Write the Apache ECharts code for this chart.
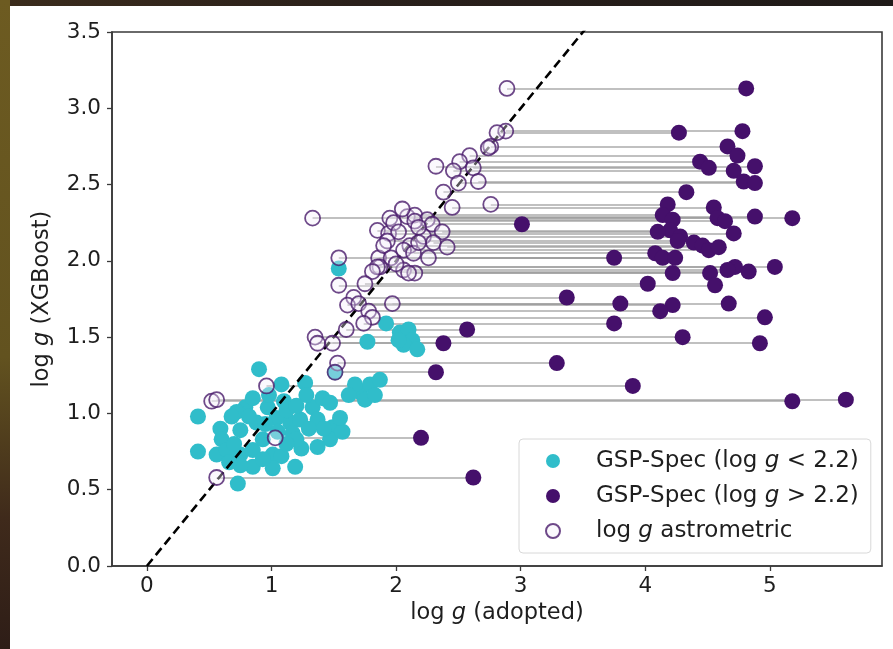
<!DOCTYPE html>
<html>
<head>
<meta charset="utf-8">
<script src="https://cdn.jsdelivr.net/npm/echarts@6/dist/echarts.min.js"></script>
<style>
  html, body { margin: 0; padding: 0; }
  body { width: 893px; height: 649px; position: relative; overflow: hidden;
         background: linear-gradient(90deg, #3b2c1c 0%, #2a201b 40%, #1f1a18 100%); }
  #strip { position: absolute; left: 0; top: 0; width: 10px; height: 649px;
           background: linear-gradient(180deg, #6d5b21 0%, #62521f 55%, #3f2a1b 80%, #2e1d17 100%); }
  #card { position: absolute; left: 10px; top: 6px; width: 883px; height: 643px; background: #fff; }
  #chart { position: absolute; left: 0; top: 0; width: 893px; height: 649px; }
</style>
</head>
<body>
<div id="strip"></div>
<div id="card"></div>
<div id="chart"></div>
<script>
// GSP-Spec stars with log g < 2.2 (cyan)
const cyanX = [0.90,0.41,0.41,0.73,1.08,1.27,0.59,0.60,0.75,0.79,0.85,0.72,0.97,1.04,1.15,1.23,1.33,1.41,1.47,1.37,
  1.49,1.47,1.37,1.24,1.17,1.20,0.56,0.64,0.75,0.85,0.85,0.75,1.01,1.08,1.01,1.19,0.93,0.88,1.12,0.68,
  0.82,0.95,1.05,1.10,1.30,0.93,0.66,1.28,0.98,1.20,1.42,1.57,1.55,0.70,1.12,1.71,1.79,1.87,1.75,1.83,
  1.67,1.62,1.92,2.03,2.10,2.13,2.06,2.17,2.02,1.77,1.54,1.51];
const cyanY = [1.29,0.98,0.75,0.54,1.19,1.20,0.90,0.83,0.89,1.04,1.10,1.01,1.04,0.97,0.94,0.96,1.04,1.10,1.07,0.96,
  0.91,0.83,0.78,0.77,0.87,0.83,0.73,0.76,0.73,0.76,0.65,0.66,0.73,0.72,0.64,0.65,0.83,0.94,1.02,0.98,
  0.98,0.93,0.88,1.08,0.90,0.70,0.68,1.12,1.12,1.05,0.90,0.88,0.97,0.80,0.80,1.14,1.19,1.22,1.09,1.12,
  1.19,1.12,1.59,1.53,1.55,1.48,1.45,1.42,1.48,1.47,1.95,1.27];

// stars with both an astrometric and a GSP-Spec (> 2.2) log g, same XGBoost value
const pairY = [3.13,2.85,2.84,2.75,2.69,2.65,2.62,2.61,2.59,2.52,2.51,2.45,2.37,2.35,2.28,2.29,2.30,2.27,2.28,2.26,
  2.24,2.20,2.18,2.19,2.16,2.13,2.12,2.10,2.07,2.09,2.05,2.02,2.02,2.02,1.96,1.96,1.94,1.92,1.93,1.92,
  1.85,1.84,1.76,1.72,1.71,1.72,1.67,1.63,1.59,1.55,1.50,1.46,1.46,1.33,1.27,1.18,1.08,1.09,0.84,0.58];
const pairAstro = [2.89,2.88,2.81,2.76,2.59,2.51,2.32,2.62,2.46,2.66,2.50,2.38,2.76,2.45,1.33,2.09,2.15,2.25,1.95,2.15,
  2.29,1.85,1.94,2.37,2.22,1.93,2.30,2.11,2.06,2.41,2.14,1.54,1.86,2.26,1.87,1.85,2.06,2.15,1.81,2.10,
  1.75,1.54,1.66,1.97,1.61,1.70,1.78,1.81,1.74,1.60,1.35,1.37,1.49,1.53,1.51,0.96,0.52,0.56,1.03,0.56];
const pairSpec = [4.81,4.78,4.27,4.66,4.74,4.44,4.88,4.51,4.71,4.79,4.88,4.33,4.18,4.55,5.18,4.88,4.14,4.22,4.58,4.64,
  3.01,4.20,4.71,4.10,4.28,4.26,4.39,4.46,4.51,4.59,4.08,4.14,4.24,3.75,4.72,5.04,4.66,4.22,4.83,4.52,
  4.02,4.56,3.37,3.80,4.22,4.67,4.12,4.96,3.75,2.57,4.30,4.92,2.38,3.29,2.32,3.90,5.18,5.61,2.20,2.62];

// astrometric-only points
const astroOnlyX = [2.05,2.18,1.98,2.02,1.90,2.18,1.96,2.00,2.74];
const astroOnlyY = [2.34,2.22,2.25,2.19,2.10,2.12,2.02,1.98,2.74];

const xTicks = [0, 1, 2, 3, 4, 5];
const oneToOne = [0, 3.6];

const FONT = 'DejaVu Sans';
const TXT = '#1e1e1e';
const CYAN = '#30bdca';
const PURPLE = '#45106b';
const OPEN_EDGE = '#4a1b6c';

const names = ['GSP-Spec (log g < 2.2)', 'GSP-Spec (log g > 2.2)', 'log g astrometric'];
const richNames = {
  [names[0]]: '{n|GSP-Spec (log }{i|g}{n| < 2.2)}',
  [names[1]]: '{n|GSP-Spec (log }{i|g}{n| > 2.2)}',
  [names[2]]: '{n|log }{i|g}{n| astrometric}'
};
const makeRich = size => ({
  n: { fontFamily: FONT, fontSize: size, color: TXT },
  i: { fontFamily: FONT, fontSize: size, color: TXT, fontStyle: 'italic' }
});

const cyanData = cyanX.map((x, i) => [x, cyanY[i]]);
const purpleData = pairSpec.map((x, i) => [x, pairY[i]]);
const openData = pairAstro.map((x, i) => [x, pairY[i]])
  .concat(astroOnlyX.map((x, i) => [x, astroOnlyY[i]]));
const linkData = pairY.map((y, i) => ({ coords: [[pairAstro[i], y], [pairSpec[i], y]] }));

const myChart = echarts.init(document.getElementById('chart'), null, { renderer: 'canvas' });
myChart.setOption({
  backgroundColor: 'transparent',
  animation: false,
  grid: { left: 112, right: 11, top: 32, bottom: 83, show: true, borderColor: '#3a3a3a', borderWidth: 1.6, backgroundColor: 'transparent' },
  xAxis: {
    type: 'value', min: -0.28, max: 5.9,
    name: '{n|log }{i|g}{n| (adopted)}', nameLocation: 'middle', nameGap: 29,
    nameTextStyle: { rich: makeRich(22.5) },
    axisLine: { show: true, onZero: false, lineStyle: { color: '#3a3a3a', width: 1.6 } },
    axisTick: { show: true, length: 5, customValues: xTicks, lineStyle: { color: '#3a3a3a', width: 1.3 } },
    axisLabel: { customValues: xTicks, margin: 9, fontFamily: FONT, fontSize: 21.5, color: TXT },
    splitLine: { show: false }
  },
  yAxis: {
    type: 'value', min: 0, max: 3.5, interval: 0.5,
    name: '{n|log }{i|g}{n| (XGBoost)}', nameLocation: 'middle', nameGap: 58, nameRotate: 90,
    nameTextStyle: { rich: makeRich(22.5) },
    axisLine: { show: true, onZero: false, lineStyle: { color: '#3a3a3a', width: 1.6 } },
    axisTick: { show: true, length: 5, lineStyle: { color: '#3a3a3a', width: 1.3 } },
    axisLabel: { margin: 11, fontFamily: FONT, fontSize: 21.5, color: TXT, formatter: v => v.toFixed(1) },
    splitLine: { show: false }
  },
  legend: {
    orient: 'vertical', left: 519, top: 439,
    data: names,
    padding: [10, 12, 10, 26],
    itemWidth: 14, itemHeight: 14, itemGap: 11,
    backgroundColor: '#fff', borderColor: '#d8d8d8', borderWidth: 1, borderRadius: 4,
    formatter: n => richNames[n],
    textStyle: { rich: makeRich(23), lineHeight: 24, padding: [0, 0, 0, 31] }
  },
  series: [
    {
      type: 'lines', coordinateSystem: 'cartesian2d', silent: true, z: 1,
      data: linkData,
      lineStyle: { color: '#9c9c9c', width: 1.5, opacity: 0.85 }
    },
    {
      name: names[0], type: 'scatter', data: cyanData, symbolSize: 16, z: 2,
      itemStyle: { color: CYAN, opacity: 1 }
    },
    {
      name: names[1], type: 'scatter', data: purpleData, symbolSize: 16, z: 3,
      itemStyle: { color: PURPLE, opacity: 1 }
    },
    {
      type: 'line', data: oneToOne.map(v => [v, v]), symbol: 'none', z: 4, silent: true,
      lineStyle: { color: '#000', width: 2.6, type: [9, 5] }
    },
    {
      name: names[2], type: 'scatter', data: openData, symbolSize: 15, z: 5,
      itemStyle: { color: 'rgba(245,238,250,0.45)', borderColor: OPEN_EDGE, borderWidth: 1.8 }
    }
  ]
});
window.addEventListener('resize', () => { myChart.resize(); });
</script>
</body>
</html>
